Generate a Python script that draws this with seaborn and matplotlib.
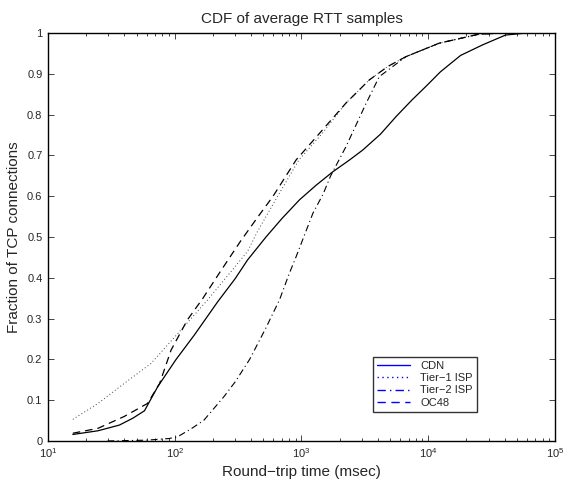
import matplotlib
matplotlib.use("Agg")
import matplotlib.pyplot as plt
from matplotlib.lines import Line2D
from matplotlib.ticker import LogLocator, FixedLocator
import seaborn as sns
import numpy as np
import pandas as pd

# values (msec, fraction)
cdn_x = [15.7, 24.8, 36.6, 46.8, 57.7, 73.4, 102, 143, 218, 300, 376, 525, 700, 964,
         1306, 1770, 2400, 3040, 4200, 5570, 7400, 9800, 12500, 18000, 26900, 40800, 60000, 100000]
cdn_y = [0.016, 0.025, 0.039, 0.056, 0.074, 0.133, 0.199, 0.26, 0.341, 0.398, 0.444, 0.50, 0.545, 0.591,
         0.627, 0.66, 0.689, 0.713, 0.752, 0.795, 0.835, 0.872, 0.905, 0.945, 0.971, 0.995, 1.0, 1.0]

tier1_x = [15.7, 24.8, 39.9, 65, 112, 182, 295, 376, 447, 646, 955, 1460,
           2240, 3430, 4800, 6670, 12200, 25000, 40000, 100000]
tier1_y = [0.053, 0.092, 0.141, 0.19, 0.272, 0.346, 0.425, 0.465, 0.512, 0.599, 0.689, 0.754,
           0.828, 0.885, 0.918, 0.942, 0.975, 0.996, 1.0, 1.0]

tier2_x = [29.5, 60, 90, 105, 135, 170, 245, 300, 390, 520, 671, 800, 908, 1230, 1480, 1700,
           2240, 3240, 4110, 6670, 12200, 25000, 40000, 100000]
tier2_y = [0.0, 0.002, 0.006, 0.01, 0.03, 0.051, 0.109, 0.145, 0.2, 0.275, 0.346, 0.41, 0.452, 0.558,
           0.605, 0.65, 0.721, 0.828, 0.893, 0.942, 0.975, 0.997, 1.0, 1.0]

oc48_x = [15.7, 24.8, 39.9, 61, 76, 93.6, 126, 167, 232, 331, 450, 594, 908,
          1387, 2240, 3430, 4800, 6670, 12200, 25000, 38000, 100000]
oc48_y = [0.019, 0.031, 0.06, 0.092, 0.141, 0.223, 0.297, 0.35, 0.418, 0.49, 0.548, 0.599, 0.689,
          0.754, 0.828, 0.885, 0.918, 0.942, 0.975, 0.997, 1.0, 1.0]

labels = ["CDN", "Tier\u22121 ISP", "Tier\u22122 ISP", "OC48"]
styles = ["-", (0, (1, 2.5)), (0, (6, 3, 1, 3)), (0, (6, 4))]
widths = [0.9, 0.7, 0.8, 0.9]
colors = ["black", "0.25", "black", "black"]

sns.set_style("ticks")
plt.rcParams['font.family'] = ['Liberation Sans', 'DejaVu Sans']
plt.rcParams['mathtext.fontset'] = 'custom'
plt.rcParams['mathtext.rm'] = 'Liberation Sans'
plt.rcParams['mathtext.it'] = 'Liberation Sans'

fig = plt.figure(figsize=(5.76, 4.83), dpi=100)
ax = fig.add_axes([0.0833, 0.087, 0.8802, 0.8447])

series = [(cdn_x, cdn_y), (tier1_x, tier1_y), (tier2_x, tier2_y), (oc48_x, oc48_y)]
for (xs, ys), lab, ls, lw, c in zip(series, labels, styles, widths, colors):
    df = pd.DataFrame({"rtt": xs, "frac": ys})
    sns.lineplot(data=df, x="rtt", y="frac", ax=ax, color=c,
                 linestyle=ls, linewidth=lw, sort=False, legend=False)

ax.set_xscale("log")
ax.set_xlim(10, 1e5)
ax.set_ylim(0, 1)
ax.xaxis.set_major_locator(FixedLocator([10, 100, 1000, 10000, 100000]))
ax.set_xticklabels([r"$10^1$", r"$10^2$", r"$10^3$", r"$10^4$", r"$10^5$"])
ax.xaxis.set_minor_locator(LogLocator(base=10, subs=np.arange(2, 10), numticks=20))
ax.set_yticks(np.arange(0, 1.01, 0.1))
ax.set_yticklabels(["0", "0.1", "0.2", "0.3", "0.4", "0.5", "0.6", "0.7", "0.8", "0.9", "1"])

ax.tick_params(which="both", direction="in", top=True, right=True, labelsize=8, pad=4)
ax.tick_params(which="major", length=4, width=0.6)
ax.tick_params(which="minor", length=2, width=0.6)
for sp in ax.spines.values():
    sp.set_visible(True)
    sp.set_linewidth(1.0)
    sp.set_color("black")

ax.set_title("CDF of average RTT samples", fontsize=11, pad=7)
ax.set_xlabel("Round\u2212trip time (msec)", fontsize=11, labelpad=3)
ax.set_ylabel("Fraction of TCP connections", fontsize=11, labelpad=4)

# MATLAB-style legend with blue sample lines
handles = [Line2D([0], [0], color="blue", linestyle=ls, linewidth=1.0) for ls in styles]
leg = ax.legend(handles, labels, loc="lower left", bbox_to_anchor=(0.641, 0.072),
                fontsize=8, frameon=True, fancybox=False, edgecolor="black",
                handlelength=3.0, handletextpad=0.9, borderpad=0.35, labelspacing=0.2,
                borderaxespad=0)
leg.get_frame().set_linewidth(1.0)

fig.savefig("out.png", dpi=100)
